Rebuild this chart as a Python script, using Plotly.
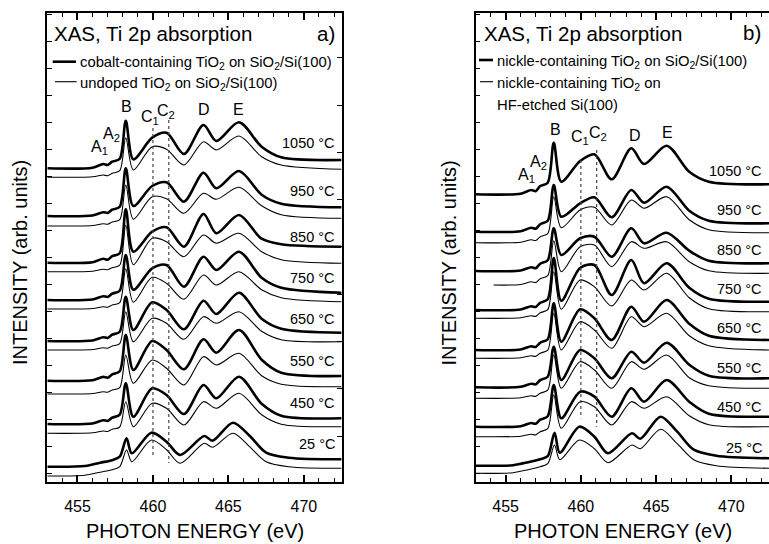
import plotly.graph_objects as go

W, H = 769, 544
FONT = "Liberation Sans, Arial, sans-serif"

# ---------------- data (photon energy in eV, intensity in arb. units) ----------------
E_ANNEAL = [453.0, 456.0, 456.7, 457.0, 457.3, 457.8, 458.2, 458.7, 459.95, 460.9,
            462.05, 463.35, 464.2, 465.7, 467.2, 468.5, 472.5]
E_RT = [453.0, 455.5, 456.5, 457.3, 457.8, 458.25, 458.6, 459.9, 460.9, 461.8,
        463.4, 463.95, 465.3, 466.4, 467.5, 469.0, 472.5]

TEMPS = ["1050 °C", "950 °C", "850 °C", "750 °C", "650 °C", "550 °C", "450 °C", "25 °C"]

# panel a) cobalt-containing TiO2 on SiO2/Si(100) (thick)
co_1050 = [313.4, 314, 317.7, 316.8, 320, 323, 361, 322.4, 344, 349, 327.7, 356.7, 340.7, 359.4, 335, 324.4, 321.7]
co_950 = [265.7, 266.2, 269.5, 268.8, 272, 275, 313.4, 275.7, 295.7, 299.4, 280, 309, 293.4, 310.7, 287, 278, 274.4]
co_850 = [219, 219.5, 223, 222, 225.5, 228.5, 272.4, 230, 250, 254.4, 235, 267.7, 248.4, 266.7, 243, 237.5, 235]
co_750 = [181.7, 182.2, 185.5, 184.8, 188, 191, 226.7, 192, 213.4, 216.7, 195, 225, 211.7, 230, 204, 194, 189]
co_650 = [140.7, 141.2, 144.5, 143.8, 147, 150, 185, 151.7, 179.4, 171.7, 152.4, 181, 167.7, 189, 163, 153, 149]
co_550 = [101, 101.5, 104.8, 104, 107.3, 110.5, 146.7, 111.7, 140.7, 131.7, 112.4, 142.4, 129, 151.7, 122, 109, 105.7]
co_450 = [57.7, 58.2, 61.5, 60.8, 64, 67, 98.4, 65, 93.4, 86.7, 67.7, 96.7, 83.4, 105, 78, 66, 63.4]
co_25 = [15, 15.7, 19, 21.5, 25, 43.4, 28.4, 49, 40, 26.7, 45.7, 41, 59, 46, 29, 24, 22.4]

# panel a) undoped TiO2 on SiO2/Si(100) (thin)
un_1050 = [304.4, 305, 306.7, 306, 308.4, 311, 344, 311.7, 335, 332.4, 316.7, 340, 331.7, 345.7, 325, 316.7, 312.4]
un_950 = [255.7, 256.2, 258, 257.4, 259.7, 262, 296.7, 262.5, 285, 283, 268.4, 288.4, 282.4, 294.4, 276, 267, 263.4]
un_850 = [210, 210.5, 212.5, 212, 214, 216.5, 256.7, 217, 243.4, 240, 225, 246.7, 238.4, 248.4, 230, 222, 218.4]
un_750 = [172.7, 173.2, 175, 174.5, 176.7, 179, 213, 179.5, 204.4, 198.4, 182.4, 206.7, 196.7, 210, 192, 184, 180]
un_650 = [131.7, 132.2, 134, 133.5, 135.7, 138, 170, 140, 163.4, 158.4, 142.4, 165, 158.4, 170, 150.5, 142, 140]
un_550 = [87.7, 88.2, 90, 89.5, 91.7, 94, 126.7, 98.4, 121.7, 113.4, 96.7, 125, 116.7, 128.4, 106, 97.5, 95]
un_450 = [48.4, 48.9, 50.7, 50.2, 52.4, 54.7, 80, 55, 78.4, 73.4, 56.7, 80, 73.4, 88.4, 67, 57.5, 55]
un_25 = [5.7, 6.5, 9.5, 12, 15, 31.7, 20, 41.7, 32, 18.4, 38.4, 34.4, 48.4, 35, 20, 15, 13.4]

# panel b) nickle-containing TiO2 on SiO2/Si(100) (thick)
ni_1050 = [287.4, 288, 291.7, 290.5, 295.7, 299, 339, 300, 320.7, 327.4, 302.4, 333.4, 317.7, 336, 310, 300, 297.4]
ni_950 = [250, 250.5, 254, 253, 257.5, 261, 296.7, 265, 278.4, 284.4, 264.4, 291.7, 279, 295, 271, 261, 258.4]
ni_850 = [210.7, 211.2, 214.5, 213.5, 218, 221.5, 253.4, 226.7, 243.4, 245, 225, 253.4, 238.4, 249, 231, 221, 218.4]
ni_750 = [171.7, 172.2, 175.5, 174.7, 179, 182.5, 223.7, 181, 213.7, 216.7, 186.7, 221.7, 198.4, 218.4, 194, 183, 180]
ni_650 = [131.7, 132.2, 135.5, 134.7, 139, 142.5, 178.4, 140, 172.4, 163.4, 141.7, 175, 160, 181.7, 158, 146, 141.7]
ni_550 = [94.4, 94.9, 98, 97.3, 101.5, 105, 135, 101.7, 131.7, 123.4, 103.4, 130, 119, 139, 117, 106, 103.4]
ni_450 = [55, 55.5, 58.7, 58, 62, 65.5, 96.7, 63.4, 90, 85, 65, 93.4, 80, 101.7, 80, 68, 65]
ni_25 = [16, 16.5, 19.5, 22.5, 25.5, 49, 29, 55, 45, 28.4, 48.4, 43, 65, 50, 32, 26, 23.4]

# panel b) nickle-containing TiO2 on HF-etched Si(100) (thin; no 1050 °C spectrum)
hf_950 = [239, 239.5, 242, 241.2, 245, 248, 285, 254, 271.7, 274.4, 256.7, 281.7, 273.4, 285, 262, 252, 249]
hf_850 = [196.7, 197.2, 200, 199.2, 203, 206, 241, 210, 235, 236.7, 215, 240, 233.4, 240, 220, 211, 208.4]
hf_750 = [163.4, 163.9, 166, 165.3, 169, 172, 210, 172.5, 201.7, 195, 175.7, 201.7, 191.7, 208.4, 184, 173, 170]
hf_650 = [123.4, 123.9, 126, 125.3, 128.5, 131.5, 168.4, 131.7, 160, 151.7, 133.4, 165, 155, 168.4, 146, 136, 131.7]
hf_550 = [83.4, 83.9, 86, 85.3, 88.5, 91.5, 126.7, 93.4, 120, 111.7, 93.4, 120, 112.4, 126.7, 104, 96, 93.4]
hf_450 = [45, 45.5, 47.5, 46.8, 50, 53, 86.7, 53.4, 80, 75, 56.7, 80, 73.4, 85, 66, 57, 55]
hf_25 = [8.4, 9, 12, 15, 18, 36.7, 22, 41.7, 33, 19, 36.7, 33, 52.4, 38, 22, 16, 13.4]
HF_850_START = 454.2  # this spectrum starts later

# dotted guide lines at C1 / C2
DOT_E = [460.0, 461.05]
DOT_A_Y = [[353.7, 25], [361.7, 18.7]]
DOT_B_Y = [[321.7, 63.4], [331.7, 55]]

# ---------------- figure ----------------
fig = go.Figure()
THICK, THIN = 2.6, 1.1

def add(xs, ys, width, xa, ya):
    fig.add_trace(go.Scatter(x=xs, y=ys, mode="lines", xaxis=xa, yaxis=ya,
                             line=dict(color="black", width=width, shape="spline", smoothing=0.85),
                             showlegend=False, hoverinfo="skip"))

left_thick = [co_1050, co_950, co_850, co_750, co_650, co_550, co_450, co_25]
left_thin = [un_1050, un_950, un_850, un_750, un_650, un_550, un_450, un_25]
right_thick = [ni_1050, ni_950, ni_850, ni_750, ni_650, ni_550, ni_450, ni_25]
right_thin = [None, hf_950, hf_850, hf_750, hf_650, hf_550, hf_450, hf_25]

for i in range(8):
    grid = E_RT if i == 7 else E_ANNEAL
    add(grid, left_thin[i], THIN, "x", "y")
    add(grid, left_thick[i], THICK, "x", "y")
    add(grid, right_thick[i], THICK, "x2", "y2")
    if right_thin[i] is not None:
        g = list(grid)
        if right_thin[i] is hf_850:
            g[0] = HF_850_START
        add(g, right_thin[i], THIN, "x2", "y2")

for e, yy in zip(DOT_E, DOT_A_Y):
    fig.add_trace(go.Scatter(x=[e, e], y=yy, mode="lines", xaxis="x", yaxis="y",
                             line=dict(color="#444", width=1.2, dash="dot"), showlegend=False))
for e, yy in zip(DOT_E, DOT_B_Y):
    fig.add_trace(go.Scatter(x=[e, e], y=yy, mode="lines", xaxis="x2", yaxis="y2",
                             line=dict(color="#444", width=1.2, dash="dot"), showlegend=False))

# ---------------- axes ----------------
YDOM = [1 - 481.7 / H, 1 - 12.7 / H]
YR = [0, 469]

def xax(dom, anchor):
    return dict(domain=dom, range=[453, 472.5], anchor=anchor, showline=True, linecolor="black",
                linewidth=1.6, mirror="ticks", ticks="inside", ticklen=7, tickwidth=1.5,
                tickcolor="black", tickvals=[455, 460, 465, 470],
                minor=dict(dtick=1, tick0=453, ticks="inside", ticklen=4, tickwidth=1.3, tickcolor="black"),
                tickfont=dict(family=FONT, size=16, color="black"), showgrid=False, zeroline=False,
                ticklabelstandoff=9, automargin=False)

def yax(anchor, mirror):
    return dict(domain=YDOM, range=YR, anchor=anchor, showline=True, linecolor="black", linewidth=1.6,
                mirror=mirror, ticks="inside", ticklen=5, tickwidth=1.3, tickcolor="black",
                tick0=8, dtick=27, showticklabels=False, showgrid=False, zeroline=False, automargin=False)

fig.update_layout(
    width=W, height=H, margin=dict(l=0, r=0, t=0, b=0),
    paper_bgcolor="white", plot_bgcolor="white",
    xaxis=xax([47.3 / W, 341.6 / W], "y"),
    yaxis=yax("x", True),
    xaxis2=xax([475.5 / W, 1.0], "y2"),
    yaxis2=yax("x2", False),
    yaxis3=dict(overlaying="y", side="right", anchor="x", range=YR, showline=False,
                ticks="inside", ticklen=5, tickwidth=1.3, tickcolor="black", tick0=45.6, dtick=47.3,
                showticklabels=False, showgrid=False, zeroline=False),
)
# dummy trace so yaxis3 is drawn
fig.add_trace(go.Scatter(x=[None], y=[None], xaxis="x", yaxis="y3", showlegend=False))

# ---------------- text ----------------
def ann(text, px, py, size, xanchor="center", yanchor="middle", textangle=0):
    return dict(text=text, x=px / W, y=1 - py / H, xref="paper", yref="paper", showarrow=False,
                font=dict(family=FONT, size=size, color="black"), xanchor=xanchor, yanchor=yanchor,
                textangle=textangle)

anns = [
    ann("XAS, Ti 2p absorption", 51.5, 33.3, 20.5, "left"),
    ann("a)", 337, 33.3, 20.5, "right"),
    ann("XAS, Ti 2p absorption", 482, 33, 20.5, "left"),
    ann("b)", 763, 32, 20.5, "right"),
    ann("cobalt-containing TiO<sub>2</sub> on SiO<sub>2</sub>/Si(100)", 78, 63.5, 14.8, "left"),
    ann("undoped TiO<sub>2</sub> on SiO<sub>2</sub>/Si(100)", 78, 83.5, 14.8, "left"),
    ann("nickle-containing TiO<sub>2</sub> on SiO<sub>2</sub>/Si(100)", 495, 62, 14.8, "left"),
    ann("nickle-containing TiO<sub>2</sub> on", 495, 83.5, 14.8, "left"),
    ann("HF-etched Si(100)", 495, 105, 14.8, "left"),
    ann("PHOTON ENERGY (eV)", 195, 531, 20),
    ann("PHOTON ENERGY (eV)", 623, 531, 20),
    ann("INTENSITY (arb. units)", 20, 263, 20, textangle=-90),
    ann("INTENSITY (arb. units)", 448.5, 263, 20, textangle=-90),
    # peak labels panel a
    ann("A<sub>1</sub>", 99, 148, 16), ann("A<sub>2</sub>", 111.5, 134, 16), ann("B", 126, 107, 16),
    ann("C<sub>1</sub>", 150, 117, 16), ann("C<sub>2</sub>", 166, 111, 16),
    ann("D", 204.5, 110, 16), ann("E", 238.5, 110, 16),
    # peak labels panel b
    ann("A<sub>1</sub>", 526, 176, 16), ann("A<sub>2</sub>", 538.5, 162, 16), ann("B", 555, 129.5, 16),
    ann("C<sub>1</sub>", 580, 137, 16), ann("C<sub>2</sub>", 598, 133, 16),
    ann("D", 635, 135, 16), ann("E", 667.5, 132.5, 16),
]
LAB_A_Y = [143.3, 190.7, 236.7, 278.3, 319.3, 360.7, 402.7, 444]
LAB_B_Y = [171, 210, 250, 289, 328.3, 367.7, 406.7, 448.3]
for t, ya, yb in zip(TEMPS, LAB_A_Y, LAB_B_Y):
    anns.append(ann(t, 337, ya, 14.5, "right"))
    anns.append(ann(t, 764, yb, 14.5, "right"))
fig.update_layout(annotations=anns)

# legend samples
def seg(x0, x1, py, w):
    return dict(type="line", xref="paper", yref="paper", x0=x0 / W, x1=x1 / W,
                y0=1 - py / H, y1=1 - py / H, line=dict(color="black", width=w))

fig.update_layout(shapes=[seg(52.7, 76, 61.7, THICK), seg(55, 76.7, 81.7, THIN),
                          seg(479, 493, 60, THICK), seg(480, 493, 81.7, THIN)])

fig.write_html("out.html")
